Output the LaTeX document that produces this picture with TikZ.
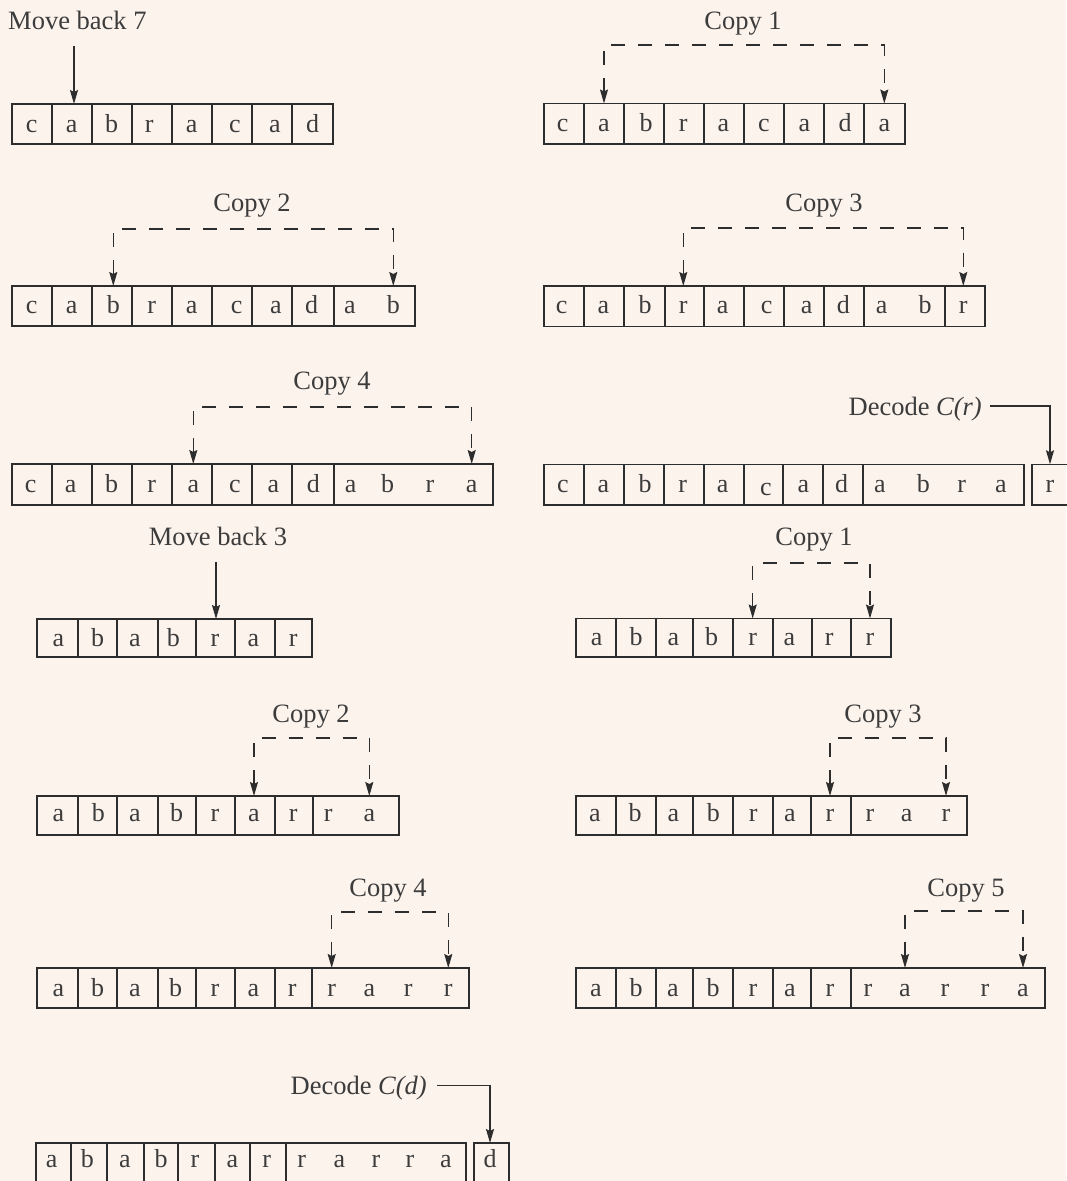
\documentclass[tikz,border=0pt]{standalone}
\usepackage{fontspec}
\setmainfont{Liberation Serif}
\usetikzlibrary{arrows.meta}
\definecolor{bgc}{RGB}{253,243,237}
\definecolor{linec}{RGB}{45,45,45}
\definecolor{textc}{RGB}{60,60,60}
\tikzset{
  cellbox/.style={draw=linec, line width=1.2pt, inner sep=0pt, outer sep=0pt},
  letter/.style={anchor=base, inner sep=0pt, text=textc, font=\fontsize{26}{30}\selectfont},
  lab/.style={anchor=base, inner sep=0pt, text=textc, font=\fontsize{26.5}{30}\selectfont},
  arr/.style={draw=linec, line width=1.3pt, -{Stealth[length=14pt,width=8pt,inset=2pt]}},
  copyarr/.style={draw=linec, line width=1.3pt, dash pattern=on 14pt off 13pt,
     {Stealth[length=14pt,width=8pt,inset=2pt]}-{Stealth[length=14pt,width=8pt,inset=2pt]}}
}
\newcommand\cellrow[6]{%
  \foreach \xa/\xb [count=\i] in {#4}{
    \node[cellbox, minimum width={(\xb-\xa)*1pt}, minimum height={(#3-#2)*1pt}] (#1c\i) at ({(\xa+\xb)/2},{(#2+#3)/2}) {};
  }
  \foreach \xl/\ch [count=\j] in {#5}{
    \node[letter] (#1l\j) at (\xl,#6) {\ch};
  }
}
\begin{document}
\begin{tikzpicture}[x=1pt,y=-1pt]
\fill[bgc] (0,0) rectangle (1066,1181);
\useasboundingbox (0,0) rectangle (1066,1181);

% Row 1
\cellrow{aL}{104}{144}{12/52,52/92,92/132,132/172,172/212,212/252,252/292,292/333}{31.7/c,71.7/a,111.7/b,149.3/r,191.7/a,235/c,275/a,312.7/d}{132}
\cellrow{aR}{103.5}{144}{544/584,584/624,624/664,664/704,704/744,744/784,784/824,824/864,864/905}{562.7/c,604/a,646/b,683.3/r,723.3/a,764/c,804.3/a,845/d,884.3/a}{131.5}
% Row 2
\cellrow{bL}{286}{326}{12/52,52/92,92/132,132/172,172/212,212/252,252/292,292/334,334/415}{31.7/c,71.7/a,113.3/b,151.7/r,191.7/a,236.7/c,276/a,311.7/d,350/a,393.3/b}{313}
\cellrow{bR}{286}{326.5}{544/584,584/624,624/665,665/704,704/744,744/784,784/824,824/864,864/945,945/985}{561.7/c,603.3/a,645/b,683.3/r,722.7/a,766.7/c,806.7/a,843.3/d,881.7/a,925/b,963.3/r}{313.5}
% Row 3
\cellrow{cL}{464}{505}{12/52,52/92,92/132,132/172,172/212,212/252,252/292,292/334,334/493}{30.7/c,70.7/a,111.7/b,151.7/r,193.3/a,235/c,273.3/a,313.3/d,350.7/a,387.7/b,430/r,471.7/a}{492}
\cellrow{cR}{464.3}{505}{544/584,584/624,624/664,664/704,704/744,744/783,783/823,823/863,863/1024,1032/1076}{563/c,603.3/a,645/b,682.7/r,722.7/a,766/{\raisebox{-3pt}{c}},803.3/a,841.7/d,880/a,923.3/b,961.7/r,1001/a,1050/r}{492}
% Row 4
\cellrow{dL}{619}{657}{37/78,78/117,117/158,158/196,196/235,235/275,275/312}{58.3/a,97.7/b,135/a,173.3/b,215/r,253.3/a,293.3/r}{646}
\cellrow{dR}{618.5}{657}{576/616,616/656,656/693,693/733,733/773,773/812,812/851,851/891}{596.7/a,636/b,673.3/a,711.7/b,752.7/r,789.3/a,829.3/r,870/r}{645}
% Row 5
\cellrow{eL}{796}{835}{37/78,78/117,117/158,158/196,196/235,235/275,275/313,313/399}{58.3/a,98.3/b,135/a,176.7/b,215/r,254/a,293.3/r,328.3/r,369.3/a}{821}
\cellrow{eR}{796}{835}{576/616,616/656,656/693,693/733,733/773,773/811,811/851,851/967}{595/a,635/b,673.3/a,713.3/b,753.3/r,790/a,830/r,870/r,906.7/a,946/r}{821}
% Row 6
\cellrow{fL}{968}{1008}{37/78,78/117,117/158,158/196,196/235,235/275,275/312,312/469}{58.3/a,97.7/b,135/a,175.7/b,215/r,253.3/a,292.3/r,331.7/r,369.3/a,408.3/r,448.3/r}{996.5}
\cellrow{fR}{968}{1008}{576/616,616/656,656/693,693/733,733/773,773/811,811/851,851/1045}{596/a,636/b,673/a,713/b,753/r,790/a,830/r,868/r,905/a,945/r,985/r,1023/a}{996.5}
% Row 7
\cellrow{g}{1143}{1182}{36/71,71/107,107/144,144/178,178/215,215/250,250/286,286/466,474/509}{51.7/a,87.3/b,125/a,161/b,195/r,232.3/a,266.7/r,301.7/r,339.3/a,376/r,410/r,446/a,490/d}{1167.5}

% Labels
\node[lab, anchor=base west] (mb7) at (8,29.5) {Move back 7};
\node[lab] (cp1a) at (743,29.5) {Copy 1};
\node[lab] (cp2a) at (252,211.5) {Copy 2};
\node[lab] (cp3a) at (824,211.5) {Copy 3};
\node[lab] (cp4a) at (332,389.5) {Copy 4};
\node[lab, anchor=base east] (dcr) at (982,415) {Decode \textit{C(r)}};
\node[lab] (mb3) at (218,545) {Move back 3};
\node[lab] (cp1b) at (814,545) {Copy 1};
\node[lab] (cp2b) at (311,722.5) {Copy 2};
\node[lab] (cp3b) at (883,722.5) {Copy 3};
\node[lab] (cp4b) at (388,896.5) {Copy 4};
\node[lab] (cp5b) at (966,896.5) {Copy 5};
\node[lab, anchor=base east] (dcd) at (427,1094) {Decode \textit{C(d)}};

% Connector anchor coordinates
\coordinate (mb7s) at (74,46);
\coordinate (mb3s) at (216,562);
\coordinate (dcrs) at (990,406);
\coordinate (dcds) at (437,1085.5);
\coordinate (k1) at (743,45);
\coordinate (k2) at (252,229);
\coordinate (k3) at (823,228);
\coordinate (k4) at (332,407);
\coordinate (k5) at (813,563);
\coordinate (k6) at (311,738);
\coordinate (k7) at (883,738);
\coordinate (k8) at (388,912);
\coordinate (k9) at (966,911);

% Solid arrows
\draw[arr] (mb7s) -- (mb7s |- aLc2.north);
\draw[arr] (mb3s) -- (mb3s |- dLc5.north);
\draw[arr] (dcrs) -| (cRl13 |- cRc10.north);
\draw[arr] (dcds) -| (gl13 |- gc9.north);

% Dashed copy arrows
\draw[copyarr] (aRl2 |- aRc2.north) |- (k1) -| (aRl9 |- aRc9.north);
\draw[copyarr] (bLl3 |- bLc3.north) |- (k2) -| (bLl10 |- bLc9.north);
\draw[copyarr] (bRl4 |- bRc4.north) |- (k3) -| (bRl11 |- bRc10.north);
\draw[copyarr] (cLl5 |- cLc5.north) |- (k4) -| (cLl12 |- cLc9.north);
\draw[copyarr] (dRl5 |- dRc5.north) |- (k5) -| (dRl8 |- dRc8.north);
\draw[copyarr] (eLl6 |- eLc6.north) |- (k6) -| (eLl9 |- eLc8.north);
\draw[copyarr] (eRl7 |- eRc7.north) |- (k7) -| (eRl10 |- eRc8.north);
\draw[copyarr] (fLl8 |- fLc8.north) |- (k8) -| (fLl11 |- fLc8.north);
\draw[copyarr] (fRl9 |- fRc8.north) |- (k9) -| (fRl12 |- fRc8.north);
\end{tikzpicture}
\end{document}
